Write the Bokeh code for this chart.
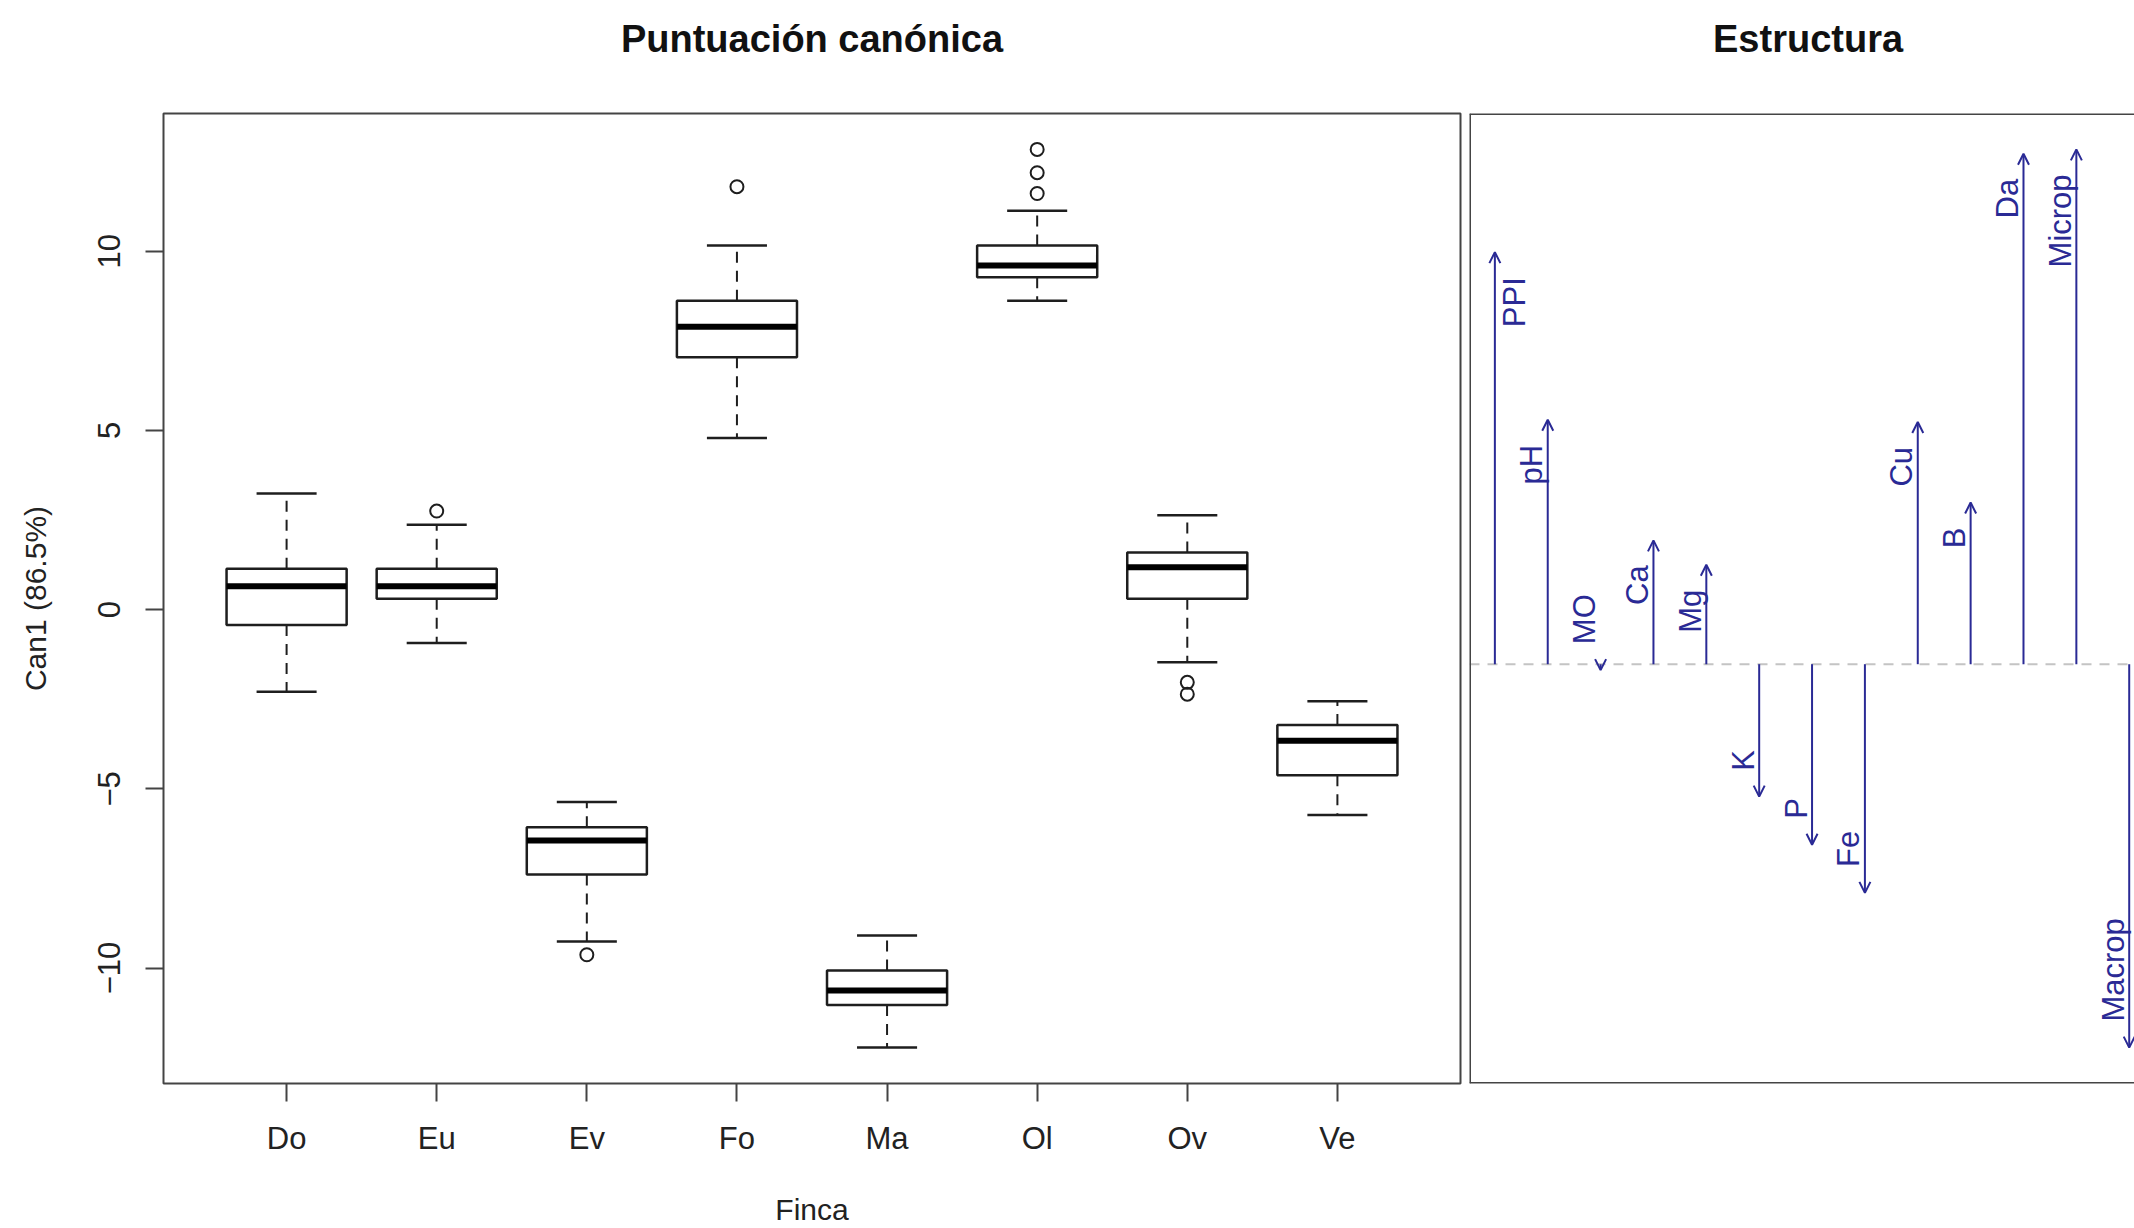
import math
from bokeh.plotting import figure
from bokeh.models import (ColumnDataSource, Range1d, FixedTicker, Span, Arrow, OpenHead)
from bokeh.layouts import row, column
from bokeh.embed import file_html
from bokeh.resources import INLINE
from bokeh.core.properties import value

# ---------------- data: canonical scores by Finca ----------------
fincas = ["Do", "Eu", "Ev", "Fo", "Ma", "Ol", "Ov", "Ve"]
whisker_low = [-2.29, -0.93, -9.26, 4.79, -12.22, 8.62, -1.47, -5.73]
q1 = [-0.43, 0.30, -7.39, 7.04, -11.03, 9.27, 0.30, -4.62]
median = [0.65, 0.65, -6.44, 7.89, -10.63, 9.60, 1.18, -3.66]
q3 = [1.14, 1.14, -6.07, 8.62, -10.07, 10.16, 1.59, -3.22]
whisker_high = [3.24, 2.37, -5.37, 10.16, -9.09, 11.13, 2.63, -2.56]
outlier_finca = ["Eu", "Ev", "Fo", "Ol", "Ol", "Ol", "Ov", "Ov"]
outlier_value = [2.75, -9.63, 11.80, 11.61, 12.19, 12.84, -2.03, -2.36]
y_ticks = [-10, -5, 0, 5, 10]

# ---------------- data: structure coefficients ----------------
variables = ["PPI", "pH", "MO", "Ca", "Mg", "K", "P", "Fe", "Cu", "B", "Da", "Microp", "Macrop"]
structure = [0.762, 0.452, -0.011, 0.229, 0.184, -0.245, -0.334, -0.423,
             0.448, 0.299, 0.944, 0.952, -0.709]

titles = ["Puntuación canónica", "Estructura"]

FONT = "Liberation Sans"
BLUE = "#2a2a95"
DARK = "#1e1e1e"
FRAME = "#444444"

TITLE_H = 76
H = 1228 - TITLE_H
W1, W2 = 1464, 670
TOP, BOTTOM = 37, 145
FRAME_H = H - TOP - BOTTOM
L1, R1, L2 = 163, 4, 5


def title_strip(width, x_range, xc, text, left, right, xoff=0):
    t = figure(width=width, height=TITLE_H, x_range=x_range, y_range=Range1d(0, 1),
               output_backend="svg", toolbar_location=None,
               x_axis_location=None, y_axis_location=None,
               min_border_left=left, min_border_right=right,
               min_border_top=0, min_border_bottom=0)
    t.outline_line_color = None
    t.grid.grid_line_color = None
    t.background_fill_color = "white"
    t.border_fill_color = "white"
    t.text(x=[xc], y=[0.5], text=[text], text_align="center", x_offset=xoff,
           text_baseline="middle", text_font=value(FONT), text_font_size=value("38px"),
           text_font_style="bold", text_color="#111111")
    return t


# ---------------- left panel ----------------
xs = [i + 1 for i in range(len(fincas))]
n = len(fincas)
x_lo, x_hi = 0.5 - 0.04 * n, n + 0.5 + 0.04 * n
all_vals = whisker_low + whisker_high + outlier_value
lo, hi = min(all_vals), max(all_vals)
pad = 0.04 * (hi - lo)
y_lo, y_hi = lo - pad, hi + pad

xr1 = Range1d(x_lo, x_hi)
p1 = figure(width=W1, height=H, x_range=xr1, y_range=Range1d(y_lo, y_hi),
            output_backend="svg", toolbar_location=None,
            min_border_left=L1, min_border_right=R1, min_border_top=TOP, min_border_bottom=BOTTOM)
p1.background_fill_color = "white"
p1.border_fill_color = "white"
p1.grid.grid_line_color = None
p1.outline_line_color = FRAME
p1.outline_line_width = 2

src = ColumnDataSource(dict(
    x=xs, left=[x - 0.4 for x in xs], right=[x + 0.4 for x in xs],
    cl=[x - 0.2 for x in xs], cr=[x + 0.2 for x in xs],
    wl=whisker_low, q1=q1, med=median, q3=q3, wh=whisker_high))

p1.segment(x0="x", y0="q3", x1="x", y1="wh", source=src, line_color=DARK,
           line_width=2, line_dash="11 8")
p1.segment(x0="x", y0="q1", x1="x", y1="wl", source=src, line_color=DARK,
           line_width=2, line_dash="11 8")
p1.segment(x0="cl", y0="wh", x1="cr", y1="wh", source=src, line_color=DARK, line_width=2.5)
p1.segment(x0="cl", y0="wl", x1="cr", y1="wl", source=src, line_color=DARK, line_width=2.5)
p1.quad(left="left", right="right", bottom="q1", top="q3", source=src,
        fill_color="white", line_color=DARK, line_width=2.5)
p1.segment(x0="left", y0="med", x1="right", y1="med", source=src, line_color="black",
           line_width=6, line_cap="butt")

ox = [fincas.index(f) + 1 for f in outlier_finca]
p1.scatter(x=ox, y=outlier_value, marker="circle", size=13, fill_color=None,
           line_color=DARK, line_width=2)

p1.xaxis.ticker = FixedTicker(ticks=xs)
p1.xaxis.major_label_overrides = {x: f for x, f in zip(xs, fincas)}
p1.yaxis.ticker = FixedTicker(ticks=y_ticks)
p1.yaxis.major_label_orientation = "vertical"
for ax in (p1.xaxis, p1.yaxis):
    ax.axis_line_color = None
    ax.major_tick_out = 18
    ax.major_tick_in = 0
    ax.major_tick_line_color = FRAME
    ax.major_tick_line_width = 2
    ax.minor_tick_line_color = None
    ax.major_label_text_font = FONT
    ax.major_label_text_font_size = "31px"
    ax.major_label_text_color = "#222222"
    ax.axis_label_text_font = FONT
    ax.axis_label_text_font_size = "30px"
    ax.axis_label_text_font_style = "normal"
    ax.axis_label_text_color = "#222222"
p1.xaxis.major_label_standoff = 19
p1.yaxis.major_label_standoff = 25
p1.yaxis.axis_label = "Can1 (86.5%)"
p1.yaxis.axis_label_standoff = 44
p1.xaxis.axis_label = "Finca"
p1.xaxis.axis_label_standoff = 34

# ---------------- right panel ----------------
m = len(variables)
vx = [i + 1 for i in range(m)]
s_lo, s_hi = min(structure + [0]), max(structure + [0])
spad = 0.04 * (s_hi - s_lo)
sy_lo, sy_hi = s_lo - spad, s_hi + spad
ppu2 = FRAME_H / (sy_hi - sy_lo)
x2_lo = 1 - 0.04 * (m - 1)
x2_hi = 13.1

xr2 = Range1d(x2_lo, x2_hi)
p2 = figure(width=W2, height=H, x_range=xr2, y_range=Range1d(sy_lo, sy_hi),
            output_backend="svg", toolbar_location=None,
            x_axis_location=None, y_axis_location=None,
            min_border_left=L2, min_border_right=0, min_border_top=TOP, min_border_bottom=BOTTOM)
p2.background_fill_color = "white"
p2.border_fill_color = "white"
p2.grid.grid_line_color = None
p2.outline_line_color = None

p2.add_layout(Span(location=0, dimension="width", line_color="#c4c4c4",
                   line_width=2, line_dash="10 8"))
p2.add_layout(Span(location=x2_lo, dimension="height", line_color=FRAME, line_width=3))
p2.add_layout(Span(location=sy_lo, dimension="width", line_color=FRAME, line_width=3))
p2.add_layout(Span(location=sy_hi, dimension="width", line_color=FRAME, line_width=3))

asrc = ColumnDataSource(dict(x=vx, y0=[0] * m, y1=structure))
p2.add_layout(Arrow(end=OpenHead(size=11, line_color=BLUE, line_width=2),
                    x_start="x", y_start="y0", x_end="x", y_end="y1", source=asrc,
                    line_color=BLUE, line_width=2))

up = [i for i in range(m) if structure[i] >= 0]
dn = [i for i in range(m) if structure[i] < 0]
side_off = [20 if i == 0 else -16 for i in range(m)]
up_src = ColumnDataSource(dict(x=[vx[i] for i in up],
                               y=[structure[i] - 25 / ppu2 for i in up],
                               t=[variables[i] for i in up],
                               xo=[side_off[i] for i in up]))
dn_src = ColumnDataSource(dict(x=[vx[i] for i in dn],
                               y=[structure[i] + 26 / ppu2 for i in dn],
                               t=[variables[i] for i in dn],
                               xo=[side_off[i] for i in dn]))
p2.text(x="x", y="y", text="t", source=up_src, angle=math.pi / 2, x_offset="xo",
        text_align="right", text_baseline="middle", text_color=BLUE,
        text_font=value(FONT), text_font_size=value("31px"))
p2.text(x="x", y="y", text="t", source=dn_src, angle=math.pi / 2, x_offset="xo",
        text_align="left", text_baseline="middle", text_color=BLUE,
        text_font=value(FONT), text_font_size=value("31px"))

# ---------------- titles ----------------
t1 = title_strip(W1, xr1, (x_lo + x_hi) / 2, titles[0], L1, R1)
t2 = title_strip(W2, xr2, sum(vx) / m, titles[1], L2, 0, xoff=-4)

layout = column(row(t1, t2), row(p1, p2))
open("out.html", "w").write(file_html(layout, INLINE))
